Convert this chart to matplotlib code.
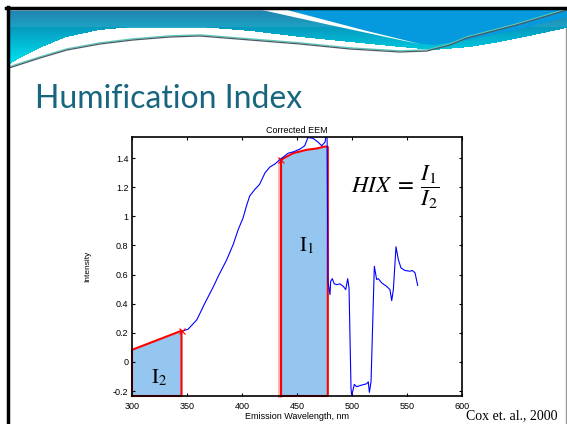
import numpy as np
import matplotlib
matplotlib.use('Agg')
import matplotlib.pyplot as plt
from matplotlib.patches import Polygon

plt.rcParams['mathtext.fontset'] = 'stix'

# emission spectrum (Corrected EEM)
wl = [345, 351, 359, 366, 374, 378.5, 381.5, 386, 392, 396.6, 401, 404, 407, 411.8, 416, 421, 425.5,
      430, 434.5, 437.5, 442, 446.6, 452.7, 457, 460, 464.8, 469.4, 472.4, 475.5, 477.3, 478.2, 480,
      480.6, 482.1, 483.9, 486.1, 489.1, 492.1, 494.3, 496.1, 497.3, 499.1, 499.7, 502.1, 504.2, 508.8,
      513.4, 514.8, 515.8, 517.3, 520.3, 522.4, 523.9, 527, 531.5, 534.5, 536.1, 537.6, 540, 542.1,
      544.5, 548.2, 552.7, 554.8, 557.3, 559.7]
intensity = [0.21, 0.225, 0.29, 0.40, 0.517, 0.59, 0.634, 0.70, 0.807, 0.91, 0.99, 1.07, 1.14, 1.186,
             1.22, 1.30, 1.34, 1.36, 1.39, 1.407, 1.434, 1.443, 1.462, 1.485, 1.542, 1.535, 1.508, 1.485,
             1.51, 1.6, 0.55, 0.462, 0.554, 0.572, 0.536, 0.531, 0.536, 0.519, 0.497, 0.572, 0.508, -0.18,
             -0.232, -0.154, -0.17, -0.159, -0.15, -0.136, -0.209, -0.136, 0.657, 0.566, 0.572, 0.543,
             0.519, 0.497, 0.421, 0.497, 0.791, 0.703, 0.646, 0.628, 0.623, 0.628, 0.612, 0.526]

# integration areas
i1_x = [435.5, 446.6, 458.8, 467.9, 475.5, 478]
i1_y = [1.39, 1.434, 1.457, 1.466, 1.48, 1.477]
i2_x = [300, 345]
i2_y = [0.083, 0.214]
marks_x = [345, 435]
marks_y = [0.214, 1.385]

ymin, ymax = -0.234, 1.545
xticks = [300, 350, 400, 450, 500, 550, 600]
yticks = [-0.2, 0, 0.2, 0.4, 0.6, 0.8, 1, 1.2, 1.4]
ytick_labels = ['-0.2', '0', '0.2', '0.4', '0.6', '0.8', '1', '1.2', '1.4']

fig = plt.figure(figsize=(5.67, 4.24), dpi=100)

# ---- slide background (pixel coords) ----
bg = fig.add_axes([0, 0, 1, 1])

# banner: vertical gradient drawn as 1px strips, cut at its lower edge
edge_x = [9, 20, 40, 67, 100, 133, 200, 250, 300, 350, 400, 434, 470, 500, 530, 567]
edge_y = [65, 58, 48, 37, 30, 27, 27, 31, 37, 42, 47, 50, 47, 42, 36, 28]
c_top = np.array([0x08, 0x78, 0xa8]) / 255
c_bot = np.array([0x00, 0xd8, 0xe8]) / 255
cols = np.arange(9, 568, 1.0)
edge = np.interp(cols, edge_x, edge_y)
for r in range(10, 66):
    t = min((r - 10) / 48.0, 1.0)
    bg.fill_between(cols, r, r + 1.3, where=edge >= r + 0.5, color=c_top * (1 - t) + c_bot * t,
                    lw=0, zorder=1, interpolate=False)

bg.add_patch(Polygon([(287, 10), (567, 10), (567, 17), (517, 30), (467, 40), (434, 45), (417, 43), (367, 31)],
                     closed=True, facecolor='#0599dd', edgecolor='none', zorder=2))
bg.add_patch(Polygon([(262, 10), (287, 10), (367, 31), (420, 44), (400, 40), (330, 25)],
                     closed=True, facecolor='white', edgecolor='none', zorder=2))

line_x = [9, 40, 67, 100, 133, 170, 200, 250, 300, 350, 400, 427, 450, 467, 517, 567]
line_y = [68, 58, 50, 44, 40, 37, 36, 40, 44, 49, 52, 51, 45, 38, 25, 10]
bg.plot(line_x, np.array(line_y) - 1.2, color='#5cc9b8', lw=0.9, zorder=3)
bg.plot(line_x, line_y, color='#4a5a66', lw=0.9, zorder=3)

# slide frame
bg.plot([6, 567], [8.3, 8.3], color='black', lw=2.5, zorder=4)
bg.plot([7.5, 7.5], [7, 424], color='black', lw=2.5, zorder=4)
bg.plot([566, 566], [28, 424], color='#999999', lw=1, zorder=4)

bg.set_xlim(0, 567)
bg.set_ylim(424, 0)
bg.axis('off')

bg.text(35, 108, 'Humification Index', fontsize=23, color='#17657e', family='Lato',
        ha='left', va='baseline')
bg.text(466, 419, 'Cox et. al., 2000', fontsize=10, color='black', family='Liberation Serif',
        ha='left', va='baseline')

# ---- chart ----
ax = fig.add_axes([132 / 567, 1 - 396 / 424, 330 / 567, 259 / 424])
ax.set_zorder(5)

ax.fill_between(i2_x, i2_y, ymin, color='#94c6f0', lw=0)
ax.plot([i2_x[0], i2_x[0], i2_x[1], i2_x[1], i2_x[0]], [ymin, i2_y[0], i2_y[1], ymin, ymin],
        color='red', lw=1.5, clip_on=False)

ax.fill_between(i1_x, i1_y, ymin, color='#94c6f0', lw=0)
ax.plot([i1_x[0] - 1] * 2, [ymin, i1_y[0]], color='red', lw=3, alpha=0.3, clip_on=False)
ax.plot([i1_x[0]] + i1_x + [i1_x[-1], i1_x[0]], [ymin] + i1_y + [ymin, ymin],
        color='red', lw=1.5, clip_on=False)

ax.plot(wl, intensity, color='blue', lw=0.8)
ax.plot(marks_x, marks_y, 'x', color='red', ms=4, mew=0.8)

ax.text(451.8, 0.759, r'$\mathrm{I}_1$', fontsize=15, ha='left', va='baseline')
ax.text(317.3, -0.145, r'$\mathrm{I}_2$', fontsize=15, ha='left', va='baseline')
ax.text(539, 1.2, r'$HIX\;=\;\dfrac{I_1}{I_2}$', fontsize=16.5, ha='center', va='center')

ax.set_xlim(300, 600)
ax.set_ylim(ymin, ymax)
ax.set_xticks(xticks)
ax.set_yticks(yticks)
ax.set_yticklabels(ytick_labels)
ax.tick_params(direction='in', top=True, right=True, length=2.5, width=0.8,
               labelsize=6.5, labelfontfamily='Liberation Sans')
ax.tick_params(axis='x', pad=4)
ax.tick_params(axis='y', pad=2.5)
for s in ax.spines.values():
    s.set_linewidth(1.2)
ax.set_title('Corrected EEM', fontsize=6.5, family='Liberation Sans', pad=3)
ax.set_xlabel('Emission Wavelength, nm', fontsize=6.5, family='Liberation Sans', labelpad=1)
ax.set_ylabel('Intensity', fontsize=6, family='Liberation Sans', labelpad=16)

fig.savefig('out.png', dpi=100)
